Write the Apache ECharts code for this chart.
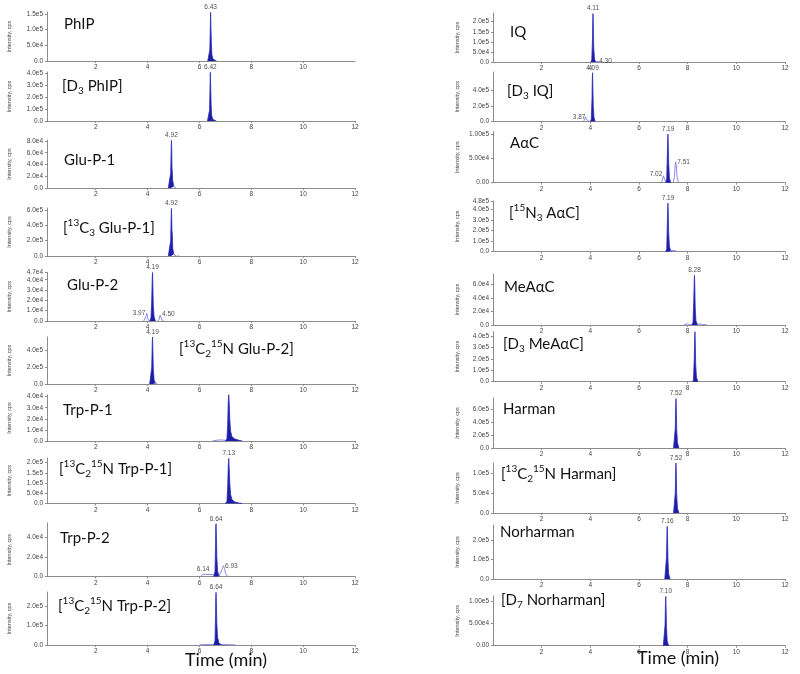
<!DOCTYPE html>
<html><head><meta charset="utf-8">
<script src="https://cdn.jsdelivr.net/npm/echarts@6/dist/echarts.min.js"></script>
<style>html,body{margin:0;padding:0;background:#fff}#c{width:800px;height:674px}</style>
</head><body><div id="c"></div>
<script>
// ---------- tick labels ----------
const xTicksFull = [2, 4, 6, 8, 10, 12];
const xTicksShort = [2, 4, 6, 8, 10];

// ---------- left column data (time min, intensity cps) ----------
const phip = [[6.32,0],[6.37,4000],[6.40,35000],[6.42,110000],[6.43,155000],[6.44,120000],[6.46,55000],[6.48,20000],[6.52,6000],[6.58,1500],[6.66,0]];
const phipLbl = [[6.43,155000,'6.43']];
const phipTicks = [0, 5e4, 1e5, 1.5e5];

const d3phip = [[6.31,0],[6.36,8000],[6.39,90000],[6.41,300000],[6.42,405000],[6.43,320000],[6.45,140000],[6.47,50000],[6.51,15000],[6.57,4000],[6.65,0]];
const d3phipLbl = [[6.42,405000,'6.42']];
const d3phipTicks = [0, 1e5, 2e5, 3e5, 4e5];

const gluP1 = [[4.80,0],[4.86,3000],[4.89,25000],[4.91,65000],[4.92,81000],[4.93,66000],[4.94,36000],[4.95,33000],[4.97,12000],[5.01,3000],[5.08,0]];
const gluP1Lbl = [[4.92,81000,'4.92']];
const gluP1Ticks = [0, 2e4, 4e4, 6e4, 8e4];

const c13gluP1 = [[4.80,0],[4.86,20000],[4.89,200000],[4.91,520000],[4.92,620000],[4.93,500000],[4.94,330000],[4.95,300000],[4.97,100000],[5.01,25000],[5.08,0]];
const c13gluP1Minor = [[5.12,0],[5.17,12000],[5.22,0]];
const c13gluP1Lbl = [[4.92,620000,'4.92']];
const c13gluP1Ticks = [0, 2e5, 4e5, 6e5];

const gluP2 = [[4.08,0],[4.13,3000],[4.16,20000],[4.18,42000],[4.19,47000],[4.20,38000],[4.22,15000],[4.25,4000],[4.30,0]];
const gluP2MinorA = [[3.85,0],[3.92,1500],[3.95,5500],[3.97,7500],[3.99,5000],[4.02,1200],[4.07,0]];
const gluP2MinorB = [[4.40,0],[4.45,2000],[4.48,5500],[4.50,6500],[4.52,4000],[4.56,800],[4.62,0]];
const gluP2Lbl = [[4.19,47000,'4.19']];
const gluP2MinorLbl = [[3.97,7500,'3.97'],[4.50,6500,'4.50']];
const gluP2Ticks = [0, 1e4, 2e4, 3e4, 4e4, 4.7e4];

const c13gluP2 = [[4.08,0],[4.13,20000],[4.16,200000],[4.18,480000],[4.19,560000],[4.20,450000],[4.22,180000],[4.25,50000],[4.30,10000],[4.36,0]];
const c13gluP2Lbl = [[4.19,560000,'4.19']];
const c13gluP2Ticks = [0, 2e5, 4e5];

const trpP1 = [[7.00,0],[7.06,2000],[7.09,15000],[7.11,35000],[7.13,42000],[7.15,34000],[7.17,20000],[7.20,9000],[7.25,4000],[7.35,2000],[7.50,800],[7.65,0]];
const trpP1Minor = [[6.50,0],[6.55,1200],[6.70,800],[6.85,1000],[7.00,600],[7.05,0]];
const trpP1Ticks = [0, 1e4, 2e4, 3e4, 4e4];

const c13trpP1 = [[7.00,0],[7.06,10000],[7.09,80000],[7.11,180000],[7.13,220000],[7.15,170000],[7.17,100000],[7.20,45000],[7.25,20000],[7.35,8000],[7.50,3000],[7.65,0]];
const c13trpP1Lbl = [[7.13,220000,'7.13']];
const c13trpP1Ticks = [0, 5e4, 1e5, 1.5e5, 2e5];

const trpP2 = [[6.55,0],[6.60,5000],[6.62,30000],[6.63,50000],[6.64,54000],[6.65,45000],[6.67,20000],[6.70,6000],[6.75,0]];
const trpP2MinorA = [[6.06,0],[6.10,1800],[6.14,2500],[6.25,2000],[6.40,2200],[6.55,1800],[6.60,0]];
const trpP2MinorB = [[6.75,0],[6.82,2000],[6.88,8000],[6.93,11000],[6.97,8000],[7.02,2000],[7.10,0]];
const trpP2Lbl = [[6.64,54000,'6.64']];
const trpP2MinorLbl = [[6.14,2500,'6.14'],[6.93,11000,'6.93']];
const trpP2Ticks = [0, 2e4, 4e4];

const c13trpP2 = [[6.55,0],[6.60,20000],[6.62,150000],[6.63,240000],[6.64,270000],[6.65,230000],[6.67,110000],[6.70,40000],[6.75,10000],[6.85,0]];
const c13trpP2Minor = [[6.00,0],[6.10,2000],[6.50,3000],[7.20,2000],[7.40,0]];
const c13trpP2Lbl = [[6.64,270000,'6.64']];
const c13trpP2Ticks = [0, 1e5, 2e5];

// ---------- right column data ----------
const iq = [[4.02,0],[4.06,10000],[4.09,120000],[4.10,200000],[4.11,240000],[4.12,190000],[4.14,70000],[4.17,15000],[4.22,0]];
const iqMinor = [[4.22,0],[4.27,4000],[4.30,6000],[4.33,3000],[4.38,0]];
const iqLbl = [[4.11,240000,'4.11']];
const iqMinorLbl = [[4.30,6000,'4.30']];
const iqTicks = [0, 5e4, 1e5, 1.5e5, 2e5];

const d3iq = [[4.00,0],[4.04,30000],[4.07,300000],[4.08,520000],[4.09,620000],[4.10,500000],[4.12,200000],[4.15,50000],[4.20,0]];
const d3iqMinor = [[3.72,0],[3.77,30000],[3.80,60000],[3.83,30000],[3.86,55000],[3.88,60000],[3.91,25000],[3.96,0]];
const d3iqLbl = [[4.09,620000,'4.09']];
const d3iqMinorLbl = [[3.86,60000,'3.87']];
const d3iqTicks = [0, 2e5, 4e5];

const aac = [[7.10,0],[7.14,8000],[7.16,50000],[7.18,90000],[7.19,100000],[7.20,85000],[7.22,40000],[7.25,10000],[7.30,0]];
const aacMinorA = [[6.90,0],[6.96,5000],[7.00,14000],[7.02,17000],[7.05,12000],[7.09,3000],[7.12,0]];
const aacMinorB = [[7.40,0],[7.45,10000],[7.49,38000],[7.51,43000],[7.53,36000],[7.57,10000],[7.63,0]];
const aacLbl = [[7.19,100000,'7.19']];
const aacMinorLbl = [[7.02,17000,'7.02'],[7.51,43000,'7.51']];
const aacTicks = [0, 5e4, 1e5];

const n15aac = [[7.10,0],[7.14,30000],[7.16,220000],[7.18,410000],[7.19,460000],[7.20,390000],[7.22,180000],[7.25,50000],[7.30,10000],[7.36,0]];
const n15aacMinor = [[7.25,0],[7.30,15000],[7.40,12000],[7.50,10000],[7.55,0]];
const n15aacLbl = [[7.19,460000,'7.19']];
const n15aacTicks = [0, 1e5, 2e5, 3e5, 4e5, 4.8e5];

const meaac = [[8.18,0],[8.22,4000],[8.25,35000],[8.27,65000],[8.28,73000],[8.29,62000],[8.31,25000],[8.34,6000],[8.40,0]];
const meaacMinor = [[7.85,0],[7.95,1500],[8.10,800],[8.20,1200],[8.40,1500],[8.60,1000],[8.80,0]];
const meaacLbl = [[8.28,73000,'8.28']];
const meaacTicks = [0, 2e4, 4e4, 6e4];

const d3meaac = [[8.20,0],[8.24,20000],[8.27,200000],[8.29,390000],[8.30,440000],[8.31,370000],[8.33,150000],[8.36,40000],[8.42,0]];
const d3meaacTicks = [0, 1e5, 2e5, 3e5, 4e5];

const harman = [[7.42,0],[7.46,30000],[7.49,300000],[7.51,650000],[7.52,760000],[7.53,640000],[7.55,280000],[7.58,80000],[7.64,0]];
const harmanLbl = [[7.52,760000,'7.52']];
const harmanTicks = [0, 2e5, 4e5, 6e5];

const c13harman = [[7.42,0],[7.46,5000],[7.49,50000],[7.51,110000],[7.52,126000],[7.53,105000],[7.55,45000],[7.58,12000],[7.64,0]];
const c13harmanLbl = [[7.52,126000,'7.52']];
const c13harmanTicks = [0, 5e4, 1e5];

const norharman = [[7.06,0],[7.10,10000],[7.13,110000],[7.15,240000],[7.16,270000],[7.17,225000],[7.19,95000],[7.22,25000],[7.28,0]];
const norharmanLbl = [[7.16,270000,'7.16']];
const norharmanTicks = [0, 1e5, 2e5];

const d7norharman = [[7.00,0],[7.04,4000],[7.07,45000],[7.09,98000],[7.10,110000],[7.11,92000],[7.13,40000],[7.16,10000],[7.22,0]];
const d7norharmanLbl = [[7.10,110000,'7.10']];
const d7norharmanTicks = [0, 5e4, 1e5];

// ---------- layout (positions in px) ----------
const colX = [{left:47, width:308, min:0.12, nameGap:35}, {left:493, width:292, min:0, nameGap:33}];

const panels = [
 {col:0, box:[12,61],   tpos:[64,24],  title:'PhIP', yMax:1.56e5, yTicks:phipTicks, dec:1, main:phip, minors:[], lbl:phipLbl, mlbl:[], mpos:[], xt:xTicksShort},
 {col:0, box:[72,121],  tpos:[62,86],  title:'[D{sub|3} PhIP]', yMax:4.08e5, yTicks:d3phipTicks, dec:1, main:d3phip, minors:[], lbl:d3phipLbl, mlbl:[], mpos:[], xt:xTicksFull},
 {col:0, box:[140,188], tpos:[64,160], title:'Glu-P-1', yMax:8.17e4, yTicks:gluP1Ticks, dec:1, main:gluP1, minors:[], lbl:gluP1Lbl, mlbl:[], mpos:[], xt:xTicksFull},
 {col:0, box:[208,256], tpos:[63,228], title:'[{sup|13}C{sub|3} Glu-P-1]', yMax:6.26e5, yTicks:c13gluP1Ticks, dec:1, main:c13gluP1, minors:[c13gluP1Minor], lbl:c13gluP1Lbl, mlbl:[], mpos:[], xt:xTicksFull},
 {col:0, box:[272.5,321], tpos:[67,285], title:'Glu-P-2', yMax:4.7e4, yTicks:gluP2Ticks, dec:1, main:gluP2, minors:[gluP2MinorA,gluP2MinorB], lbl:gluP2Lbl, mlbl:gluP2MinorLbl, mpos:['left','right'], xt:xTicksFull},
 {col:0, box:[337,384], tpos:[179,349], title:'[{sup|13}C{sub|2}{sup|15}N Glu-P-2]', yMax:5.6e5, yTicks:c13gluP2Ticks, dec:1, main:c13gluP2, minors:[], lbl:c13gluP2Lbl, mlbl:[], mpos:[], xt:xTicksFull},
 {col:0, box:[395,441], tpos:[63,410], title:'Trp-P-1', yMax:4.15e4, yTicks:trpP1Ticks, dec:1, main:trpP1, minors:[trpP1Minor], lbl:[], mlbl:[], mpos:[], xt:xTicksFull},
 {col:0, box:[458,503.5], tpos:[59,469], title:'[{sup|13}C{sub|2}{sup|15}N Trp-P-1]', yMax:2.22e5, yTicks:c13trpP1Ticks, dec:1, main:c13trpP1, minors:[], lbl:c13trpP1Lbl, mlbl:[], mpos:[], xt:xTicksFull},
 {col:0, box:[523,576.5], tpos:[60,538], title:'Trp-P-2', yMax:5.48e4, yTicks:trpP2Ticks, dec:1, main:trpP2, minors:[trpP2MinorA,trpP2MinorB], lbl:trpP2Lbl, mlbl:trpP2MinorLbl, mpos:['top','right'], xt:xTicksFull},
 {col:0, box:[592,645], tpos:[58,606], title:'[{sup|13}C{sub|2}{sup|15}N Trp-P-2]', yMax:2.72e5, yTicks:c13trpP2Ticks, dec:1, main:c13trpP2, minors:[c13trpP2Minor], lbl:c13trpP2Lbl, mlbl:[], mpos:[], xt:xTicksFull},

 {col:1, box:[13,62],   tpos:[510,32], title:'IQ', yMax:2.43e5, yTicks:iqTicks, dec:1, main:iq, minors:[iqMinor], lbl:iqLbl, mlbl:iqMinorLbl, mpos:['right'], xt:xTicksFull},
 {col:1, box:[72,121.5], tpos:[507,91], title:'[D{sub|3} IQ]', yMax:6.3e5, yTicks:d3iqTicks, dec:1, main:d3iq, minors:[d3iqMinor], lbl:d3iqLbl, mlbl:d3iqMinorLbl, mpos:['left'], xt:xTicksFull},
 {col:1, box:[131.7,182.7], tpos:[510,143], title:'AαC', yMax:1.05e5, yTicks:aacTicks, dec:2, main:aac, minors:[aacMinorA,aacMinorB], lbl:aacLbl, mlbl:aacMinorLbl, mpos:['left','right'], xt:xTicksFull},
 {col:1, box:[201,251.7], tpos:[509,213], title:'[{sup|15}N{sub|3} AαC]', yMax:4.8e5, yTicks:n15aacTicks, dec:1, main:n15aac, minors:[n15aacMinor], lbl:n15aacLbl, mlbl:[], mpos:[], xt:xTicksFull},
 {col:1, box:[274,325], tpos:[504,287], title:'MeAαC', yMax:7.5e4, yTicks:meaacTicks, dec:1, main:meaac, minors:[meaacMinor], lbl:meaacLbl, mlbl:[], mpos:[], xt:xTicksFull},
 {col:1, box:[331.7,381.7], tpos:[503,344], title:'[D{sub|3} MeAαC]', yMax:4.4e5, yTicks:d3meaacTicks, dec:1, main:d3meaac, minors:[], lbl:[], mlbl:[], mpos:[], xt:xTicksFull},
 {col:1, box:[398,448], tpos:[503,409], title:'Harman', yMax:7.7e5, yTicks:harmanTicks, dec:1, main:harman, minors:[], lbl:harmanLbl, mlbl:[], mpos:[], xt:xTicksFull},
 {col:1, box:[463,513], tpos:[501,474], title:'[{sup|13}C{sub|2}{sup|15}N Harman]', yMax:1.26e5, yTicks:c13harmanTicks, dec:1, main:c13harman, minors:[], lbl:c13harmanLbl, mlbl:[], mpos:[], xt:xTicksFull},
 {col:1, box:[525,579], tpos:[500,532], title:'Norharman', yMax:2.77e5, yTicks:norharmanTicks, dec:1, main:norharman, minors:[], lbl:norharmanLbl, mlbl:[], mpos:[], xt:xTicksFull},
 {col:1, box:[596,645.7], tpos:[501,600], title:'[D{sub|7} Norharman]', yMax:1.11e5, yTicks:d7norharmanTicks, dec:2, main:d7norharman, minors:[], lbl:d7norharmanLbl, mlbl:[], mpos:[], xt:xTicksFull}
];

function fmt(v, dec) {
  if (v === 0) return (0).toFixed(dec);
  return v.toExponential(dec).replace('e+', 'e');
}

const AXIS = '#8c8c8c', LBL = '#444', TICKFONT = 'Liberation Sans';
const grid = [], xAxis = [], yAxis = [], series = [], title = [];

panels.forEach((p, i) => {
  const c = colX[p.col];
  grid.push({left:c.left, width:c.width, top:p.box[0], height:p.box[1]-p.box[0], containLabel:false, outerBoundsMode:'none'});
  xAxis.push({gridIndex:i, type:'value', min:c.min, max:12,
    axisLine:{show:true, lineStyle:{color:AXIS, width:1}},
    axisTick:{show:true, length:2, customValues:p.xt, lineStyle:{color:AXIS}},
    axisLabel:{customValues:p.xt, fontSize:6.5, margin:3, color:LBL, fontFamily:TICKFONT},
    splitLine:{show:false}});
  yAxis.push({gridIndex:i, type:'value', min:0, max:p.yMax,
    name:'Intensity, cps', nameLocation:'middle', nameGap:c.nameGap, nameRotate:90,
    nameTextStyle:{fontSize:5.5, color:LBL, fontFamily:TICKFONT},
    axisLine:{show:true, lineStyle:{color:AXIS, width:1}},
    axisTick:{show:true, length:2, customValues:p.yTicks, lineStyle:{color:AXIS}},
    axisLabel:{customValues:p.yTicks, formatter:(v)=>fmt(v,p.dec), fontSize:6.5, margin:4, color:LBL, fontFamily:TICKFONT},
    splitLine:{show:false}});
  p.minors.forEach(m => series.push({type:'line', xAxisIndex:i, yAxisIndex:i, data:m, showSymbol:false, silent:true,
    lineStyle:{color:'#7c7ce8', width:0.9}, z:2}));
  series.push({type:'line', xAxisIndex:i, yAxisIndex:i, data:p.main, showSymbol:false, silent:true,
    lineStyle:{color:'#2b2bbd', width:0.8}, areaStyle:{color:'#1d1da3', opacity:1}, z:3});
  const ld = p.lbl.map(d => ({value:[d[0], d[1]], name:d[2], label:{position:'top'}}))
    .concat(p.mlbl.map((d, k) => ({value:[d[0], d[1]], name:d[2], label:{position:p.mpos[k]}})));
  if (ld.length) series.push({type:'scatter', xAxisIndex:i, yAxisIndex:i, data:ld, symbolSize:1, silent:true,
    itemStyle:{color:'rgba(0,0,0,0)'},
    label:{show:true, formatter:'{b}', fontSize:6.5, color:'#222', fontFamily:TICKFONT, distance:1}, z:4});
  title.push({text:p.title, left:p.tpos[0], top:p.tpos[1]-10, padding:0,
    textStyle:{fontFamily:'Lato', fontSize:15, fontWeight:'normal', color:'#111', lineHeight:20,
      rich:{
        sub:{fontFamily:'Lato', fontSize:10, lineHeight:10, verticalAlign:'bottom', color:'#111'},
        sup:{fontFamily:'Lato', fontSize:10, lineHeight:10, verticalAlign:'top', color:'#111'}
      }}});
});

const chart = echarts.init(document.getElementById('c'), null, {renderer:'canvas'});
chart.setOption({
  animation:false,
  backgroundColor:'#fff',
  title, grid, xAxis, yAxis, series,
  graphic:[
    {type:'text', left:185, top:651, style:{text:'Time (min)', fontFamily:'Lato', fontSize:18, fill:'#111'}},
    {type:'text', left:637, top:649, style:{text:'Time (min)', fontFamily:'Lato', fontSize:18, fill:'#111'}}
  ]
});
</script></body></html>
